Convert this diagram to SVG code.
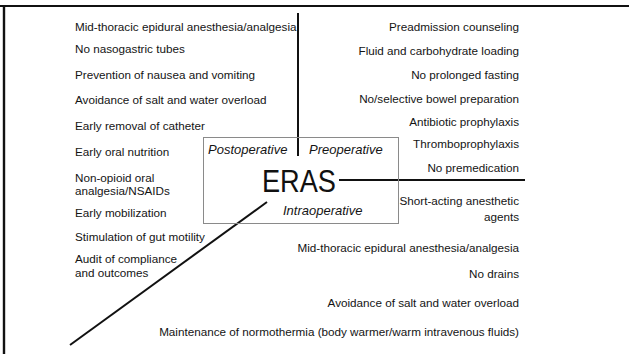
<svg xmlns="http://www.w3.org/2000/svg" width="629" height="354" viewBox="0 0 629 354">
<style>
  .t { font-family: "Liberation Sans", Arial, sans-serif; font-size: 11.7px; fill: #141414; }
  .r { text-anchor: end; }
  .ph { font-family: "Liberation Sans", Arial, sans-serif; font-size: 13px; font-style: italic; fill: #141414; }
  .ln { stroke: #111; stroke-width: 2; fill: none; }
</style>
<rect width="629" height="354" fill="#fff"/>
<g id="frame">
  <line x1="0" y1="6" x2="629" y2="6" stroke="#111" stroke-width="2.2"/>
  <line x1="4" y1="5" x2="4" y2="354" stroke="#111" stroke-width="2.4"/>
</g>
<g id="connectors">
  <line class="ln" x1="298" y1="13" x2="298" y2="156"/>
  <line class="ln" x1="339" y1="180" x2="525" y2="180"/>
  <line class="ln" x1="267" y1="202" x2="70" y2="345"/>
</g>
<g id="eras">
  <rect x="203.5" y="137.5" width="195" height="86" fill="none" stroke="#8a8a8a" stroke-width="1"/>
  <text x="262" y="192" font-family="Liberation Sans, Arial, sans-serif" font-size="31" fill="#111" textLength="74" lengthAdjust="spacingAndGlyphs">ERAS</text>
  <text class="ph" x="208" y="154">Postoperative</text>
  <text class="ph" x="309" y="154">Preoperative</text>
  <text class="ph" x="283" y="215">Intraoperative</text>
</g>
<g id="postoperative">
  <text class="t" x="75" y="31">Mid-thoracic epidural anesthesia/analgesia</text>
  <text class="t" x="75" y="53">No nasogastric tubes</text>
  <text class="t" x="75" y="79">Prevention of nausea and vomiting</text>
  <text class="t" x="75" y="104">Avoidance of salt and water overload</text>
  <text class="t" x="75" y="130">Early removal of catheter</text>
  <text class="t" x="75" y="156">Early oral nutrition</text>
  <text class="t" x="75" y="182">Non-opioid oral</text>
  <text class="t" x="75" y="195">analgesia/NSAIDs</text>
  <text class="t" x="75" y="217">Early mobilization</text>
  <text class="t" x="75" y="241">Stimulation of gut motility</text>
  <text class="t" x="75" y="263">Audit of compliance</text>
  <text class="t" x="75" y="277">and outcomes</text>
</g>
<g id="preoperative">
  <text class="t r" x="519" y="31">Preadmission counseling</text>
  <text class="t r" x="519" y="55">Fluid and carbohydrate loading</text>
  <text class="t r" x="519" y="79">No prolonged fasting</text>
  <text class="t r" x="519" y="103">No/selective bowel preparation</text>
  <text class="t r" x="519" y="126">Antibiotic prophylaxis</text>
  <text class="t r" x="519" y="148">Thromboprophylaxis</text>
  <text class="t r" x="519" y="172">No premedication</text>
</g>
<g id="intraoperative">
  <text class="t r" x="519" y="205">Short-acting anesthetic</text>
  <text class="t r" x="519" y="221">agents</text>
  <text class="t r" x="519" y="252">Mid-thoracic epidural anesthesia/analgesia</text>
  <text class="t r" x="519" y="278">No drains</text>
  <text class="t r" x="519" y="307">Avoidance of salt and water overload</text>
  <text class="t r" x="519" y="336">Maintenance of normothermia (body warmer/warm intravenous fluids)</text>
</g>
</svg>
